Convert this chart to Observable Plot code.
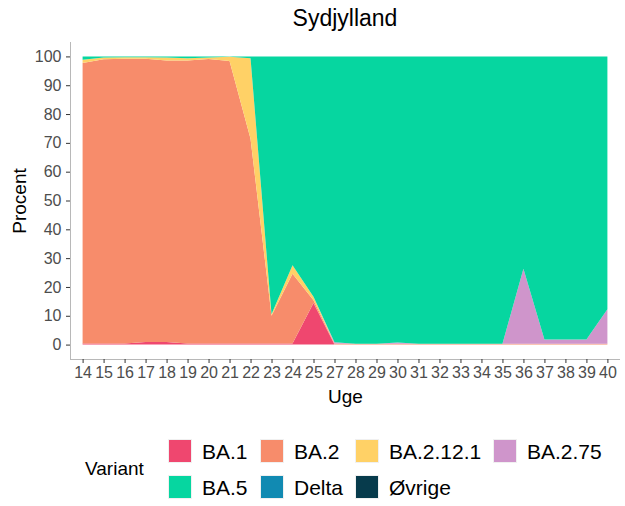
<!DOCTYPE html>
<html>
<head>
<meta charset="utf-8">
<script src="https://cdn.jsdelivr.net/npm/d3@7"></script>
<script src="https://cdn.jsdelivr.net/npm/@observablehq/plot@0.6"></script>
<style>
  body { margin: 0; background: #fff; font-family: "Liberation Sans", Arial, sans-serif; }
  #wrap { position: relative; width: 625px; height: 506px; overflow: hidden; }
  #title { position: absolute; left: 70px; width: 550px; top: 5px; text-align: center; font-size: 23px; color: #000; }
  #chart { position: absolute; left: 0; top: 0; }
  .lg { position: absolute; font-size: 21px; color: #000; line-height: 24px; white-space: nowrap; }
  .key { position: absolute; width: 24px; height: 24px; box-sizing: border-box; border: 1px solid #f0f0f0; }
</style>
</head>
<body>
<div id="wrap">
  <div id="chart"></div>
  <div id="title">Sydjylland</div>
</div>
<script>
const weeks = [14,15,16,17,18,19,20,21,22,23,24,25,27,28,29,30,31,32,33,34,35,36,37,38,39,40];
const variants = ["BA.1","BA.2","BA.2.12.1","BA.2.75","BA.5","Delta","Øvrige"];
const colors = ["#EF476F","#F78C6B","#FFD166","#CF95CB","#06D6A0","#118AB2","#073B4C"];
const yTicks = [0,10,20,30,40,50,60,70,80,90,100];

const BA1    = [0.4,0.4,0.4,0.9,0.9,0.4,0.4,0.4,0.4,0.4,0.4,14.4,0,0,0,0,0,0,0,0,0,0,0,0,0,0];
const BA2    = [97.3,98.6,98.8,98.3,97.7,98.2,98.7,98.0,71.0,9.6,24.2,1.0,0.4,0.3,0.3,0.3,0.3,0.3,0.3,0.3,0.3,0.3,0.3,0.3,0.3,0.3];
const BA2121 = [1.1,0.6,0.5,0.5,1.0,0.8,0.5,1.5,28.0,0.5,2.9,1.2,0,0,0,0,0,0,0,0,0,0,0,0,0,0];
const BA275  = [0,0,0,0,0,0,0,0,0,0,0,0,0.4,0,0,0.4,0,0,0,0,0,26.0,1.5,1.5,1.5,12.0];
const BA5    = [1.2,0.4,0.3,0.3,0.4,0.6,0.4,0.1,0.6,89.5,72.5,83.4,99.2,99.7,99.7,99.3,99.7,99.7,99.7,99.7,99.7,73.7,98.2,98.2,98.2,87.7];
const Delta  = [0,0,0,0,0,0,0,0,0,0,0,0,0,0,0,0,0,0,0,0,0,0,0,0,0,0];
const Ovrige = [0,0,0,0,0,0,0,0,0,0,0,0,0,0,0,0,0,0,0,0,0,0,0,0,0,0];

const series = [BA1, BA2, BA2121, BA275, BA5, Delta, Ovrige];
const data = [];
variants.forEach((v, k) => {
  series[k].forEach((val, i) => data.push({i, week: weeks[i], variant: v, value: val}));
});
const xIdx = weeks.map((w, i) => i);

const chart = Plot.plot({
  width: 625,
  height: 420,
  marginLeft: 70,
  marginRight: 5,
  marginTop: 42,
  marginBottom: 61,
  style: {fontFamily: "Liberation Sans, Arial, sans-serif", color: "#4d4d4d", background: "transparent"},
  x: {domain: [-0.6, weeks.length - 0.4]},
  y: {domain: [-5, 105]},
  color: {domain: variants, range: colors},
  marks: [
    Plot.areaY(data, {x: "i", y: "value", fill: "variant", order: variants, curve: "linear"}),
    Plot.ruleX([-0.6], {stroke: "#b8b8b8", strokeWidth: 1}),
    Plot.ruleY([-5], {stroke: "#b8b8b8", strokeWidth: 1}),
    Plot.axisY({ticks: yTicks, tickSize: 4, tickPadding: 5, fontSize: 16, label: null, stroke: "#333"}),
    Plot.axisX({ticks: xIdx, tickFormat: i => weeks[i], tickSize: 4, tickPadding: 3, fontSize: 16, label: null, stroke: "#333"}),
    Plot.text(["Uge"], {frameAnchor: "bottom", dy: 43, fontSize: 19, fill: "#000"}),
    Plot.text(["Procent"], {frameAnchor: "left", textAnchor: "middle", dx: -51, rotate: -90, fontSize: 19, fill: "#000"})
  ]
});
document.getElementById("chart").appendChild(chart);

// legend
const wrap = document.getElementById("wrap");
const lab = document.createElement("div");
lab.className = "lg";
lab.textContent = "Variant";
lab.style.fontSize = "19px";
lab.style.left = "85px"; lab.style.top = "457px";
wrap.appendChild(lab);
const colX = [168, 260, 355, 493];
const rowY = [439, 475];
variants.forEach((v, k) => {
  const r = Math.floor(k / 4), c = k % 4;
  const key = document.createElement("div");
  key.className = "key";
  key.style.background = colors[k];
  key.style.left = colX[c] + "px";
  key.style.top = rowY[r] + "px";
  wrap.appendChild(key);
  const t = document.createElement("div");
  t.className = "lg";
  t.textContent = v;
  t.style.left = (colX[c] + 34) + "px";
  t.style.top = (rowY[r] + 1) + "px";
  wrap.appendChild(t);
});
</script>
</body>
</html>
